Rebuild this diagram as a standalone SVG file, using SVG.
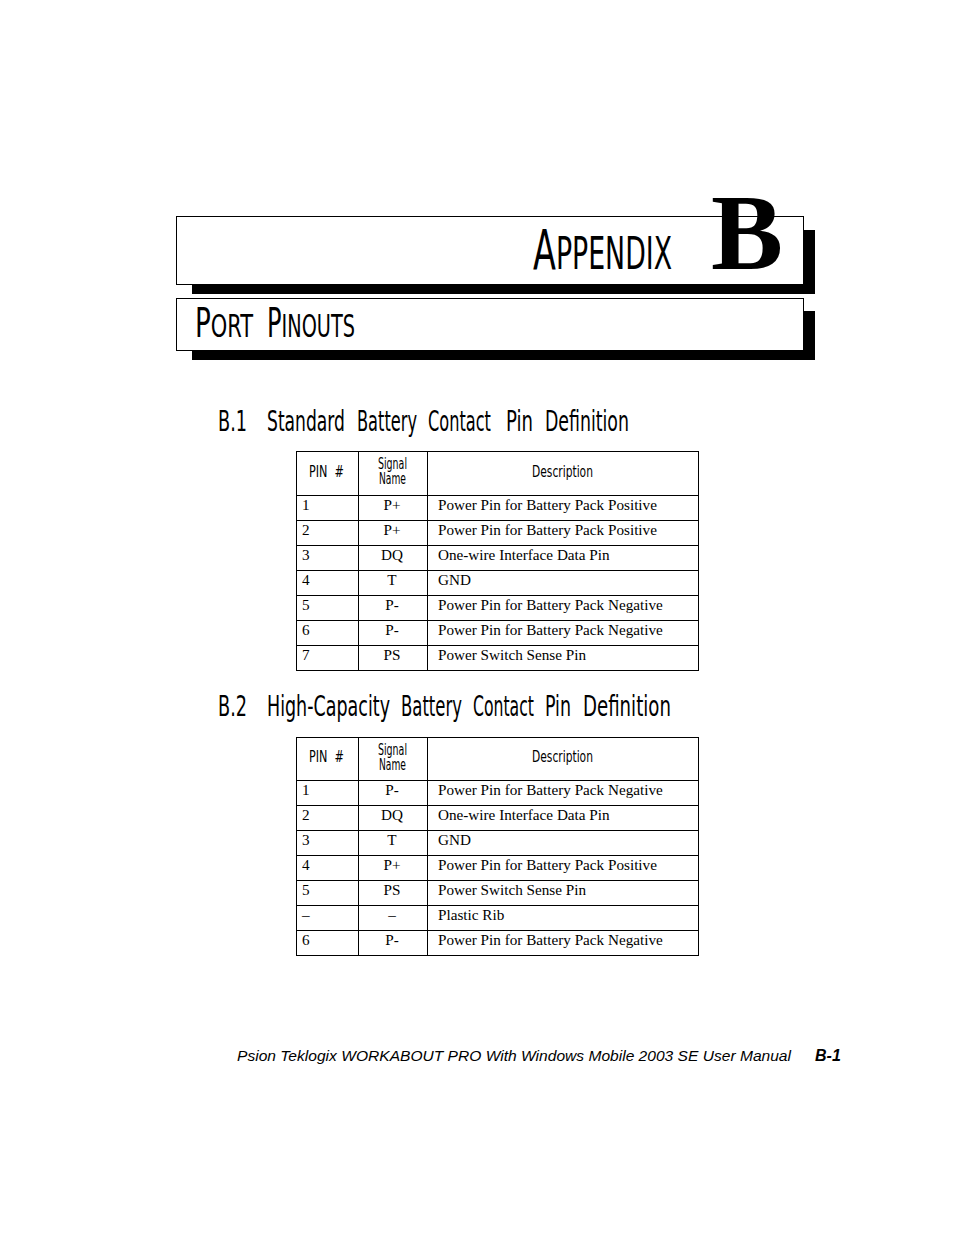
<svg xmlns="http://www.w3.org/2000/svg" width="954" height="1235" viewBox="0 0 954 1235">
<style>
.cond{font-family:"DejaVu Sans Condensed","DejaVu Sans","Liberation Sans",sans-serif;fill:#000}
.serif{font-family:"Liberation Serif","Times New Roman",serif;font-size:15.2px;fill:#000}
.grid{fill:none;stroke:#000;stroke-width:1}
.hdr{font-size:15px}
.h{font-size:28px}
</style>
<rect width="954" height="1235" fill="#fff"/>
<g id="title">
<rect x="192" y="230" width="623" height="64" fill="#000"/>
<rect x="176.5" y="216.5" width="627" height="68" fill="#fff" stroke="#000" stroke-width="1"/>
<g transform="scale(0.67,1)">
<text class="cond" x="795.5" y="269" textLength="207.5" lengthAdjust="spacingAndGlyphs"><tspan font-size="55">A</tspan><tspan font-size="44">PPENDIX</tspan></text>
</g>
<text x="711" y="269" font-family="Liberation Serif,serif" font-weight="bold" font-size="108" fill="#000">B</text>
</g>
<g id="subtitle">
<rect x="192" y="311" width="623" height="49" fill="#000"/>
<rect x="176.5" y="298.5" width="627" height="52" fill="#fff" stroke="#000" stroke-width="1"/>
<g transform="scale(0.67,1)">
<text class="cond" x="291" y="337" textLength="86.6" lengthAdjust="spacingAndGlyphs"><tspan font-size="40">P</tspan><tspan font-size="32">ORT</tspan></text>
<text class="cond" x="398.5" y="337" textLength="131.3" lengthAdjust="spacingAndGlyphs"><tspan font-size="40">P</tspan><tspan font-size="32">INOUTS</tspan></text>
</g>
</g>
<g id="heading1" class="cond h" transform="scale(0.67,1)">
<text x="325.4" y="431" textLength="43.3" lengthAdjust="spacingAndGlyphs">B.1</text>
<text x="398.5" y="431" textLength="116.4" lengthAdjust="spacingAndGlyphs">Standard</text>
<text x="532.8" y="431" textLength="89.6" lengthAdjust="spacingAndGlyphs">Battery</text>
<text x="638.8" y="431" textLength="94" lengthAdjust="spacingAndGlyphs">Contact</text>
<text x="755.2" y="431" textLength="40.3" lengthAdjust="spacingAndGlyphs">Pin</text>
<text x="813.4" y="431" textLength="125.4" lengthAdjust="spacingAndGlyphs">Definition</text>
</g>
<g id="table1">
<rect class="grid" x="296.5" y="451.5" width="402" height="219"/>
<line class="grid" x1="358.5" y1="451" x2="358.5" y2="671"/>
<line class="grid" x1="427.5" y1="451" x2="427.5" y2="671"/>
<line class="grid" x1="296" y1="495.5" x2="699" y2="495.5"/>
<line class="grid" x1="296" y1="520.5" x2="699" y2="520.5"/>
<line class="grid" x1="296" y1="545.5" x2="699" y2="545.5"/>
<line class="grid" x1="296" y1="570.5" x2="699" y2="570.5"/>
<line class="grid" x1="296" y1="595.5" x2="699" y2="595.5"/>
<line class="grid" x1="296" y1="620.5" x2="699" y2="620.5"/>
<line class="grid" x1="296" y1="645.5" x2="699" y2="645.5"/>
<g class="cond hdr" transform="scale(0.75,1)">
<text x="412" y="477" textLength="46.7" lengthAdjust="spacingAndGlyphs" xml:space="preserve">PIN  #</text>
<text x="504" y="469" textLength="38.7" lengthAdjust="spacingAndGlyphs">Signal</text>
<text x="505.3" y="484" textLength="36" lengthAdjust="spacingAndGlyphs">Name</text>
<text x="709.3" y="477" textLength="81.3" lengthAdjust="spacingAndGlyphs">Description</text>
</g>
<g class="serif">
<text x="302" y="510">1</text><text x="392" y="510" text-anchor="middle">P+</text><text x="438" y="510">Power Pin for Battery Pack Positive</text>
<text x="302" y="535">2</text><text x="392" y="535" text-anchor="middle">P+</text><text x="438" y="535">Power Pin for Battery Pack Positive</text>
<text x="302" y="560">3</text><text x="392" y="560" text-anchor="middle">DQ</text><text x="438" y="560">One-wire Interface Data Pin</text>
<text x="302" y="585">4</text><text x="392" y="585" text-anchor="middle">T</text><text x="438" y="585">GND</text>
<text x="302" y="610">5</text><text x="392" y="610" text-anchor="middle">P-</text><text x="438" y="610">Power Pin for Battery Pack Negative</text>
<text x="302" y="635">6</text><text x="392" y="635" text-anchor="middle">P-</text><text x="438" y="635">Power Pin for Battery Pack Negative</text>
<text x="302" y="660">7</text><text x="392" y="660" text-anchor="middle">PS</text><text x="438" y="660">Power Switch Sense Pin</text>
</g>
</g>
<g id="heading2" class="cond h" transform="scale(0.67,1)">
<text x="325.4" y="716" textLength="43.3" lengthAdjust="spacingAndGlyphs">B.2</text>
<text x="398.5" y="716" textLength="183.6" lengthAdjust="spacingAndGlyphs">High-Capacity</text>
<text x="598.5" y="716" textLength="91" lengthAdjust="spacingAndGlyphs">Battery</text>
<text x="706" y="716" textLength="91" lengthAdjust="spacingAndGlyphs">Contact</text>
<text x="813.4" y="716" textLength="38.8" lengthAdjust="spacingAndGlyphs">Pin</text>
<text x="870.1" y="716" textLength="131.3" lengthAdjust="spacingAndGlyphs">Definition</text>
</g>
<g id="table2">
<rect class="grid" x="296.5" y="737.5" width="402" height="218"/>
<line class="grid" x1="358.5" y1="737" x2="358.5" y2="956"/>
<line class="grid" x1="427.5" y1="737" x2="427.5" y2="956"/>
<line class="grid" x1="296" y1="780.5" x2="699" y2="780.5"/>
<line class="grid" x1="296" y1="805.5" x2="699" y2="805.5"/>
<line class="grid" x1="296" y1="830.5" x2="699" y2="830.5"/>
<line class="grid" x1="296" y1="855.5" x2="699" y2="855.5"/>
<line class="grid" x1="296" y1="880.5" x2="699" y2="880.5"/>
<line class="grid" x1="296" y1="905.5" x2="699" y2="905.5"/>
<line class="grid" x1="296" y1="930.5" x2="699" y2="930.5"/>
<g class="cond hdr" transform="scale(0.75,1)">
<text x="412" y="762" textLength="46.7" lengthAdjust="spacingAndGlyphs" xml:space="preserve">PIN  #</text>
<text x="504" y="755" textLength="38.7" lengthAdjust="spacingAndGlyphs">Signal</text>
<text x="505.3" y="770" textLength="36" lengthAdjust="spacingAndGlyphs">Name</text>
<text x="709.3" y="762" textLength="81.3" lengthAdjust="spacingAndGlyphs">Description</text>
</g>
<g class="serif">
<text x="302" y="795">1</text><text x="392" y="795" text-anchor="middle">P-</text><text x="438" y="795">Power Pin for Battery Pack Negative</text>
<text x="302" y="820">2</text><text x="392" y="820" text-anchor="middle">DQ</text><text x="438" y="820">One-wire Interface Data Pin</text>
<text x="302" y="845">3</text><text x="392" y="845" text-anchor="middle">T</text><text x="438" y="845">GND</text>
<text x="302" y="870">4</text><text x="392" y="870" text-anchor="middle">P+</text><text x="438" y="870">Power Pin for Battery Pack Positive</text>
<text x="302" y="895">5</text><text x="392" y="895" text-anchor="middle">PS</text><text x="438" y="895">Power Switch Sense Pin</text>
<text x="302" y="920">–</text><text x="392" y="920" text-anchor="middle">–</text><text x="438" y="920">Plastic Rib</text>
<text x="302" y="945">6</text><text x="392" y="945" text-anchor="middle">P-</text><text x="438" y="945">Power Pin for Battery Pack Negative</text>
</g>
</g>
<g id="footer">
<text x="237" y="1061" font-family="Liberation Sans,Arial,sans-serif" font-style="italic" font-size="15.5" fill="#000" textLength="554" lengthAdjust="spacingAndGlyphs">Psion Teklogix WORKABOUT PRO With Windows Mobile 2003 SE User Manual</text>
<text x="815" y="1061" font-family="Liberation Sans,Arial,sans-serif" font-style="italic" font-weight="bold" font-size="16" fill="#000">B-1</text>
</g>
<g id="connectors"/>
</svg>
